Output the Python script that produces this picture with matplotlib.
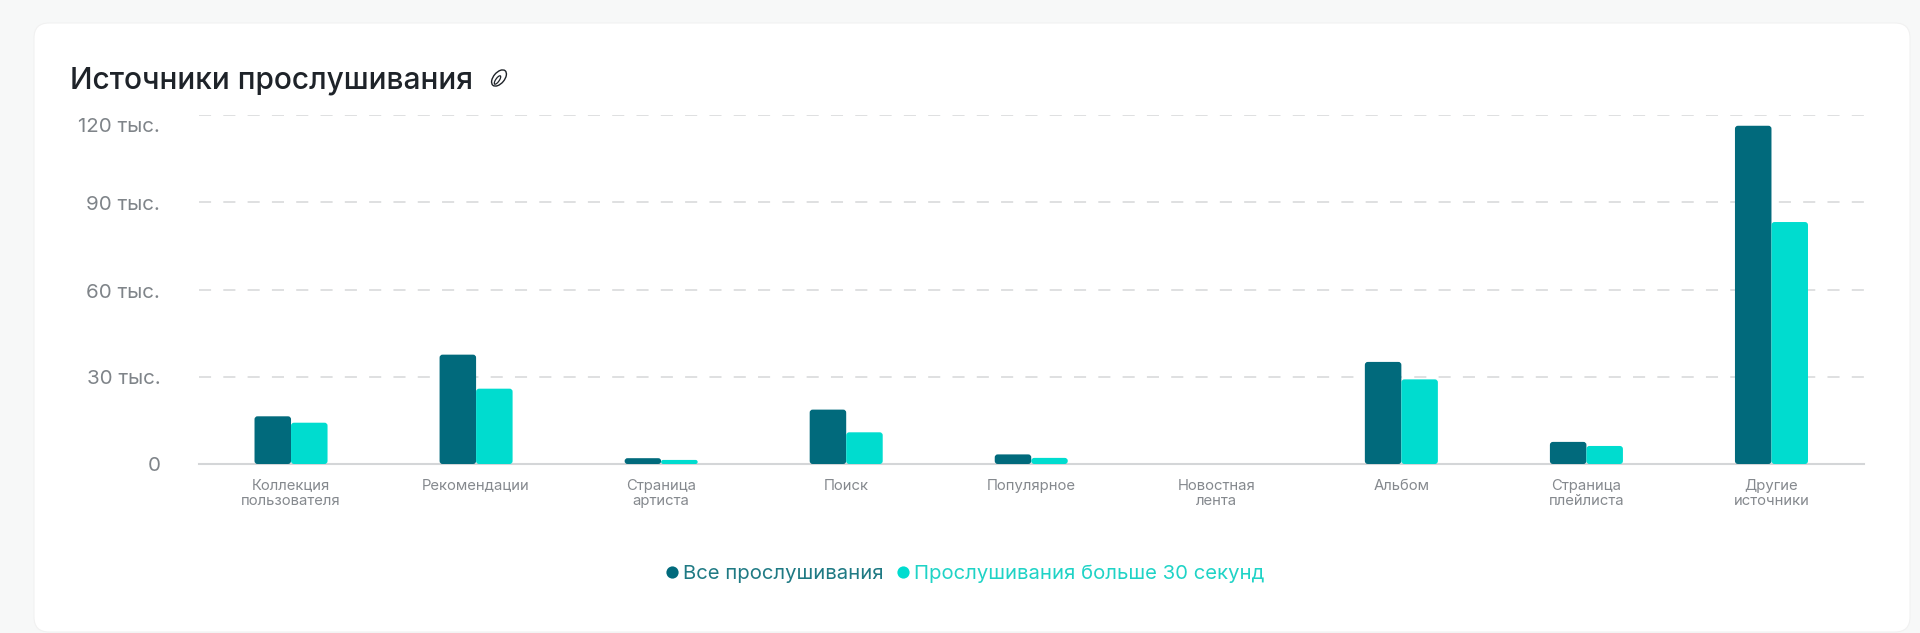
import matplotlib
matplotlib.use("Agg")
import matplotlib.pyplot as plt
from matplotlib.patches import FancyBboxPatch, Ellipse
from matplotlib.lines import Line2D
from matplotlib.transforms import ScaledTranslation

categories = ["Коллекция\nпользователя", "Рекомендации", "Страница\nартиста", "Поиск", "Популярное",
              "Новостная\nлента", "Альбом", "Страница\nплейлиста", "Другие\nисточники"]
all_plays = [16400, 37600, 2000, 18700, 3300, 0, 35100, 7600, 116300]
long_plays = [14200, 25900, 1400, 10900, 2100, 0, 29100, 6200, 83200]
y_ticks = [0, 30000, 60000, 90000, 120000]
y_tick_labels = ["0", "30 тыс.", "60 тыс.", "90 тыс.", "120 тыс."]
series_names = ["Все прослушивания", "Прослушивания больше 30 секунд"]
title_text = "Источники прослушивания"

W, H = 1920, 633
DARK, LIGHT = "#016A7C", "#00DCCF"
FONT = "Inter"
plt.rcParams["font.family"] = [FONT, "DejaVu Sans"]
plt.rcParams["lines.scale_dashes"] = False

fig = plt.figure(figsize=(W / 100, H / 100), dpi=100, facecolor="#F7F8F8")

# card
bg = fig.add_axes([0, 0, 1, 1], zorder=0)
bg.set_xlim(0, W); bg.set_ylim(H, 0); bg.axis("off")
bg.add_patch(FancyBboxPatch((34, 23), 1876, 609, boxstyle="round,pad=0,rounding_size=15",
                            fc="white", ec="#F1F1F1", lw=0.8))
bg.text(70.5, 80.5, title_text, fontsize=21.5, color="#1E2329", va="center", ha="left", fontweight="medium")
# title icon
bg.add_patch(Ellipse((499, 78), 11, 19, angle=40, fc="none", ec="#1E2329", lw=1.0))
bg.add_patch(Ellipse((497.5, 80), 3.5, 10, angle=35, fc="none", ec="#1E2329", lw=0.9))

# plot
L, R, T, B = 198.5, 1864, 115, 464
ax = fig.add_axes([L / W, 1 - B / H, (R - L) / W, (B - T) / H], zorder=1)
ax.patch.set_alpha(0)
x = list(range(len(categories)))
bar_w = 36.5 / 185
px_per_x = (R - L) / 9
px_per_y = (B - T) / 120000
ax.set_xlim(-0.5, len(categories) - 0.5)
ax.set_ylim(0, 120000)

for offset, vals, col in ((-bar_w / 2, all_plays, DARK), (bar_w / 2, long_plays, LIGHT)):
    bars = ax.bar([i + offset for i in x], vals, width=bar_w, color=col, zorder=3)
    for r in bars:
        h = r.get_height()
        r.set_visible(False)
        if h <= 0:
            continue
        rad_px = min(3.0, h * px_per_y / 2)
        aspect = (1 / px_per_y) / (1 / px_per_x)
        ax.add_patch(FancyBboxPatch((r.get_x(), 0), r.get_width(), h,
                                    boxstyle=f"round,pad=0,rounding_size={rad_px / px_per_x}",
                                    mutation_aspect=aspect, fc=col, ec="none", zorder=3, clip_on=False))

for s in ("top", "left", "right"):
    ax.spines[s].set_visible(False)
ax.spines["bottom"].set_color("#D4D6D8")
ax.spines["bottom"].set_linewidth(1.5)
ax.spines["bottom"].set_zorder(2)

ax.set_yticks(y_ticks)
ax.set_yticklabels(y_tick_labels, fontsize=14.8, color="#7F8489")
ax.set_xticks(x)
ax.set_xticklabels(categories, fontsize=10.7, color="#85898E", linespacing=1.1)
ax.tick_params(axis="both", length=0)
ax.tick_params(axis="y", pad=27.5)
ax.tick_params(axis="x", pad=10.5)
ax.yaxis.grid(True, color="#D9DADB", lw=1.2, ls=(0, (8.7, 8.8)), zorder=1)
ax.xaxis.grid(False)
ax.set_axisbelow(True)
ax.get_ygridlines()[0].set_visible(False)

# tick labels sit slightly below their gridlines, the top one by more
ticklabels = ax.get_yticklabels()
for lab, dy in zip(ticklabels, [0, 0, 1, 1, 9.5]):
    lab.set_transform(lab.get_transform() + ScaledTranslation(0, -dy / 100, fig.dpi_scale_trans))

handles = [Line2D([], [], ls="none", marker="o", ms=8.8, color=DARK, mec="none"),
           Line2D([], [], ls="none", marker="o", ms=8.8, color=LIGHT, mec="none")]
leg = fig.legend(handles, series_names, ncol=2, frameon=False, loc="center",
                 bbox_to_anchor=(964.5 / W, 1 - 574 / H), fontsize=14.6,
                 handlelength=0.8, handletextpad=0.15, columnspacing=0.55,
                 labelcolor=["#1F7A84", "#1FD3C6"])

fig.savefig("out.png", dpi=100, facecolor=fig.get_facecolor())
